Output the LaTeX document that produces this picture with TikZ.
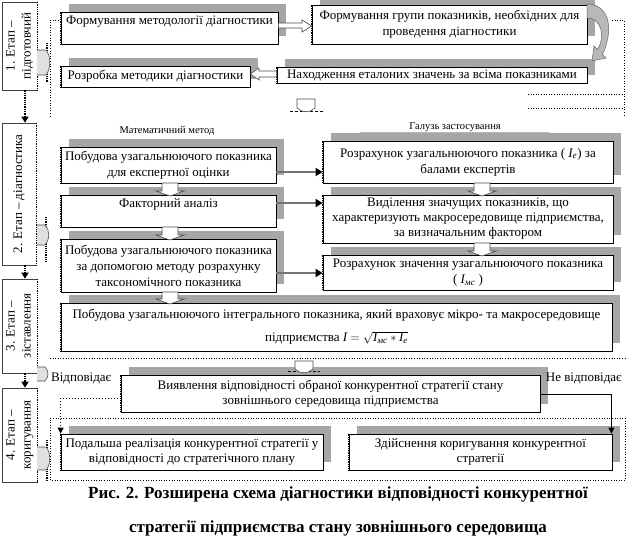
\documentclass[tikz,border=0pt]{standalone}
\usepackage{fontspec}
\usepackage{amsmath}
\setmainfont{Liberation Serif}
\usetikzlibrary{shadows,arrows.meta}
\newcommand{\fs}{\fontsize{13}{16}\selectfont}
\newcommand{\blkdown}[3]{\draw[blk] (#1-8,#2) -- (#1+8,#2) -- (#1+8,#3-5) -- (#1+14,#3-5) -- (#1,#3) -- (#1-14,#3-5) -- (#1-8,#3-5) -- cycle;}
\tikzset{
  dotleft/.style={append after command={(\tikzlastnode.north west) edge[draw=white,line width=1.4pt] (\tikzlastnode.south west) (\tikzlastnode.north west) edge[draw=black,densely dotted,line width=0.8pt] (\tikzlastnode.south west)}},
  dotright/.style={append after command={(\tikzlastnode.north east) edge[draw=white,line width=1.4pt] (\tikzlastnode.south east) (\tikzlastnode.north east) edge[draw=black,densely dotted,line width=0.8pt] (\tikzlastnode.south east)}},
  bx/.style={draw=black, line width=0.8pt, fill=white, align=center, inner sep=1pt, font=\fs,
    drop shadow={shadow xshift=8pt, shadow yshift=8pt, fill=black!35, opacity=1}, dotleft},
  stg/.style={draw=black!75, line width=0.6pt, fill=white, inner sep=0pt, font=\fs, dotright},
  grp/.style={dotted, line width=0.6pt},
  harr/.style={line width=2.4pt, draw=black!55, -{Triangle[length=7pt,width=8pt,color=black]}},
  varr/.style={densely dotted, line width=1.3pt, -{Triangle[length=6pt,width=7pt]}},
  blk/.style={draw=black!70, line width=0.6pt, fill=white},
  lbl/.style={font=\fontsize{10.5}{12}\selectfont, inner sep=0pt},
  txt/.style={font=\fs, inner sep=0pt},
  captxt/.style={font=\bfseries\fontsize{17}{20}\selectfont, inner sep=0pt},
  conn/.style={line width=0.8pt, -{Triangle[length=6pt,width=6pt]}},
  dconn/.style={line width=1pt, dotted, -{Triangle[length=6pt,width=6pt]}},
  tab/.style={draw=black!70, line width=0.6pt, fill=black!12},
}
\begin{document}
\begin{tikzpicture}[x=1pt,y=-1pt]
\useasboundingbox (0,0) rectangle (636,549);
% group frames (dotted)
\draw[grp] (61,20) -- (50,20) -- (50,118);
\draw[grp] (612,20) -- (624,20) -- (624,115);
\draw[grp] (528,94) -- (624,94);
\draw[grp] (528,108) -- (624,108);
\draw[grp] (50,358) -- (625,358);
\draw[grp] (50,480) -- (50,418) -- (625,418) -- (625,480) -- cycle;
\draw[gray!55, line width=1.5pt] (360,133) -- (550,133);

% stage boxes
\node[stg, minimum width=35, minimum height=88] (st1) at (19.5,46)
  {\rotatebox{90}{\begin{tabular}{@{}c@{}}1. Етап –\\підготовчий\end{tabular}}};
\node[stg, minimum width=34, minimum height=142] (st2) at (19,194)
  {\rotatebox{90}{2. Етап – діагностика}};
\node[stg, minimum width=35, minimum height=94] (st3) at (19.5,326)
  {\rotatebox{90}{\begin{tabular}{@{}c@{}}3. Етап –\\зіставлення\end{tabular}}};
\node[stg, minimum width=35, minimum height=94] (st4) at (19.5,435)
  {\rotatebox{90}{\begin{tabular}{@{}c@{}}4. Етап –\\коригування\end{tabular}}};

% tabs (braces) at stage boxes
\draw[densely dotted, line width=1.2pt] (47,43) -- (47,82);
\draw[tab] (37,50) -- (46,50) .. controls (51,56) and (51,69) .. (46,75) -- (37,75);
\draw[densely dotted, line width=1.2pt] (46,217) -- (46,263);
\draw[tab] (37,225) -- (45,225) .. controls (50,230) and (50,239) .. (45,245) -- (37,245);
\draw[densely dotted, line width=1.2pt] (47,440) -- (47,480);
\draw[tab] (37,447) -- (46,447) .. controls (51,452) and (51,465) .. (46,470) -- (37,470);
\draw[tab] (37,367) -- (45,367) .. controls (49,371) and (49,377) .. (45,381) -- (37,381);

% stage 1 boxes
\node[bx, minimum width=217, minimum height=32] (B1) at (169.5,28) {Формування методології діагностики\\\mbox{}};
\node[bx, minimum width=275, minimum height=39] (B2) at (449.5,24.5) {Формування групи показників, необхідних для\\проведення діагностики};
\node[bx, minimum width=189, minimum height=21] (B3) at (155.5,76.5) {Розробка методики діагностики};
\node[bx, minimum width=310, minimum height=16] (B4) at (432,75) {Находження еталоних значень за всіма показниками};

% stage 2 labels
\node[lbl] (mm) at (167,131) {Математичний метод};
\node[lbl] (gz) at (455,127) {Галузь застосування};

% stage 2 boxes
\node[bx, minimum width=215, minimum height=36] (L1) at (168.5,165) {Побудова узагальнюючого показника\\для експертної оцінки};
\node[bx, minimum width=215, minimum height=32] (L2) at (168.5,211) {Факторний аналіз\\\mbox{}};
\node[bx, minimum width=215, minimum height=53] (L3) at (168.5,265.5) {Побудова узагальнюючого показника\\за допомогою методу розрахунку\\таксономічного показника};
\node[bx, minimum width=290, minimum height=42] (R1) at (468,162) {Розрахунок узагальнюючого показника ( $\textit{I}_{\textit{e}}$) за\\балами експертів};
\node[bx, minimum width=290, minimum height=48, font=\fontsize{13}{15}\selectfont] (R2) at (468,219) {Виділення значущих показників, що\\характеризують макросередовище підприємства,\\за визначальним фактором};
\node[bx, minimum width=290, minimum height=35] (R3) at (468,272.5) {Розрахунок значення узагальнюючого показника\\( $\textit{I}_{\textit{мс}}$ )};

% stage 3 box
\node[bx, minimum width=551, minimum height=48, font=\fontsize{13}{23}\selectfont] (S) at (336.5,327) {Побудова узагальнюючого інтегрального показника, який враховує мікро- та макросередовище\\підприємства $\textit{I} = \sqrt{\textit{I}_{\textit{мс}} * \textit{I}_{\textit{e}}}$};

% stage 4
\node[bx, minimum width=419, minimum height=37, font=\fontsize{13}{15}\selectfont] (V) at (330.5,393.5) {Виявлення відповідності обраної конкурентної стратегії стану\\зовнішнього середовища підприємства};
\node[bx, minimum width=262, minimum height=36, font=\fontsize{13}{15}\selectfont] (D1) at (192,452) {Подальша реалізація конкурентної стратегії у\\відповідності до стратегічного плану};
\node[bx, minimum width=263, minimum height=36, font=\fontsize{13}{15}\selectfont] (D2) at (480.5,452) {Здійснення коригування конкурентної\\стратегії};
\node[txt, anchor=west] (yes) at (51,378) {Відповідає};
\node[txt, anchor=east] (no) at (622,378) {Не відповідає};

% caption
\node[captxt] (cap1) at (338,494) {Рис. 2. Розширена схема діагностики відповідності конкурентної};
\node[captxt] (cap2) at (338,528) {стратегії підприємства стану зовнішнього середовища};

% block arrows stage 1
\draw[blk] (B1.east |- 0,23) -- (302,23) -- (302,20) -- (B2.west |- 0,26) -- (302,32) -- (302,28) -- (B1.east |- 0,28) -- cycle;
\draw[blk] (B4.west |- 0,71) -- (259,71) -- (259,68) -- (B3.east |- 0,74) -- (259,80) -- (259,77) -- (B4.west |- 0,77) -- cycle;
\draw[draw=black!60, fill=black!28, line width=0.5pt] (587,4) .. controls (606,4) and (616,24) .. (602.5,54.5) -- (606,58) -- (592,61) -- (594,46) -- (597.5,49.5) .. controls (606,36) and (601,18) .. (587,18) -- cycle;
% small down callouts
\draw[densely dashed, line width=0.6pt] (290,111) -- (323,111);
\draw[blk] (297,99) -- (315,99) -- (315,108) .. controls (310,113) and (302,113) .. (297,108) -- cycle;
\draw[densely dashed, line width=0.6pt] (288,371) -- (320,371);
\draw[blk] (295,361) -- (313,361) -- (313,369) .. controls (308,374) and (300,374) .. (295,369) -- cycle;

% down block arrows
\blkdown{170}{183}{196}
\blkdown{170}{227}{240}
\blkdown{170}{292}{304}
\blkdown{482}{183}{196}
\blkdown{482}{243}{256}

% horizontal arrows
\draw[harr] (L1.east |- 0,172) -- (R1.west |- 0,172);
\draw[harr] (L2.east |- 0,203) -- (R2.west |- 0,203);
\draw[harr] (L3.east |- 0,273) -- (R3.west |- 0,273);

% stage arrows
\draw[varr] (st1.south -| 25,0) -- (st2.north -| 25,0);
\draw[varr] (st2.south -| 25,0) -- (st3.north -| 25,0);
\draw[varr] (st3.south -| 25,0) -- (st4.north -| 25,0);

% decision connectors
\draw[dconn] (V.west |- 0,398) -| (D1.north west);
\draw[conn] (V.east |- 0,394) -| ([xshift=-1pt]D2.north east);
\end{tikzpicture}
\end{document}
